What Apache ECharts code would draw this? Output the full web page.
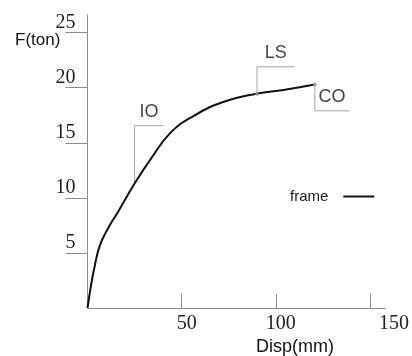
<!DOCTYPE html>
<html>
<head>
<meta charset="utf-8">
<script src="https://cdn.jsdelivr.net/npm/echarts@6/dist/echarts.min.js"></script>
<style>
  html, body { margin: 0; padding: 0; background: #fff; }
  #chart { width: 412px; height: 356px; }
</style>
</head>
<body>
<div id="chart"></div>
<script>
// pushover curve
var disp = [0, 2, 3.7, 6.4, 10.8, 16.1, 25, 33.9, 44, 56, 72, 89.7, 104, 120.7];
var force = [0, 2.2, 3.7, 5.6, 7.2, 8.7, 11.3, 13.6, 15.9, 17.4, 18.7, 19.45, 19.8, 20.3];

// performance levels: name, point on curve, flag height and flag end
var levelNames = ['IO', 'LS', 'CO'];
var levelDisp = [25, 90, 120.7];
var levelForce = [11.4, 19.45, 20.3];
var flagForce = [16.55, 21.9, 17.9];
var flagEnd = [40.4, 110, 139];
var markedLevels = ['LS', 'CO'];

var xTicks = [50, 100, 150];
var yTicks = [5, 10, 15, 20, 25];

var axisGray = '#8c8c8c';
var serif = 'Liberation Serif';
var sans = 'Liberation Sans';

var curve = disp.map(function (d, i) { return [d, force[i]]; });

var series = [{
    name: 'frame',
    type: 'line',
    data: curve,
    smooth: 0.45,
    symbol: 'none',
    itemStyle: { color: '#111' },
    lineStyle: { color: '#111', width: 2 },
    z: 3
}];

levelNames.forEach(function (n, i) {
    series.push({
        name: 'flag' + n,
        type: 'line',
        data: [[levelDisp[i], levelForce[i]], [levelDisp[i], flagForce[i]], [flagEnd[i], flagForce[i]]],
        symbol: 'none',
        lineStyle: { color: '#a6a6a6', width: 1 },
        silent: true,
        z: 2
    });
    series.push({
        name: 'label' + n,
        type: 'scatter',
        data: [[(levelDisp[i] + flagEnd[i]) / 2, flagForce[i]]],
        symbolSize: 0,
        label: {
            show: true, position: 'top', distance: 5,
            formatter: n, fontFamily: sans, fontSize: 18, color: '#111'
        },
        silent: true
    });
});

series.push({
    name: 'marks',
    type: 'scatter',
    data: levelNames.map(function (n, i) { return [levelDisp[i], levelForce[i]]; })
        .filter(function (p, i) { return markedLevels.indexOf(levelNames[i]) >= 0; }),
    symbol: 'circle',
    symbolSize: 4,
    itemStyle: { color: '#999' },
    z: 4
});

var chart = echarts.init(document.getElementById('chart'), null, { renderer: 'canvas' });
chart.setOption({
    animation: false,
    backgroundColor: '#fff',
    grid: { left: 87.5, right: 25, top: 15, bottom: 48 },
    legend: {
        data: [{ name: 'frame', icon: 'rect' }],
        left: 285, top: 184,
        align: 'right',
        itemWidth: 31, itemHeight: 2,
        itemStyle: { color: '#111' },
        textStyle: { fontFamily: sans, fontSize: 15, color: '#222', padding: [0, 10, 0, 0] }
    },
    xAxis: {
        type: 'value',
        min: 0, max: 158,
        axisLine: { lineStyle: { color: axisGray, width: 1 } },
        axisTick: { show: true, inside: true, length: 14, customValues: xTicks, lineStyle: { color: axisGray } },
        splitLine: { show: false },
        axisLabel: {
            customValues: xTicks,
            margin: 6,
            formatter: function (v) { return v === 150 ? '{c|' + v + '}' : '{n|' + v + '}'; },
            rich: {
                n: { fontFamily: serif, fontSize: 20, color: '#222', padding: [0, 0, 0, 10] },
                c: { fontFamily: serif, fontSize: 20, color: '#222', padding: [0, 0, 0, 48] }
            }
        }
    },
    yAxis: {
        type: 'value',
        min: 0, max: 26.6,
        axisLine: { show: true, lineStyle: { color: axisGray, width: 1 } },
        axisTick: { show: true, inside: false, length: 22, customValues: yTicks, lineStyle: { color: axisGray } },
        splitLine: { show: false },
        axisLabel: {
            customValues: yTicks,
            margin: 12,
            verticalAlign: 'bottom',
            fontFamily: serif, fontSize: 20, color: '#222'
        }
    },
    graphic: [
        { type: 'text', left: 15, top: 32, style: { text: 'F(ton)', fontFamily: sans, fontSize: 17, fill: '#111' } },
        { type: 'text', left: 256, top: 338, style: { text: 'Disp(mm)', fontFamily: sans, fontSize: 18, fill: '#111' } }
    ],
    series: series
});
</script>
</body>
</html>
